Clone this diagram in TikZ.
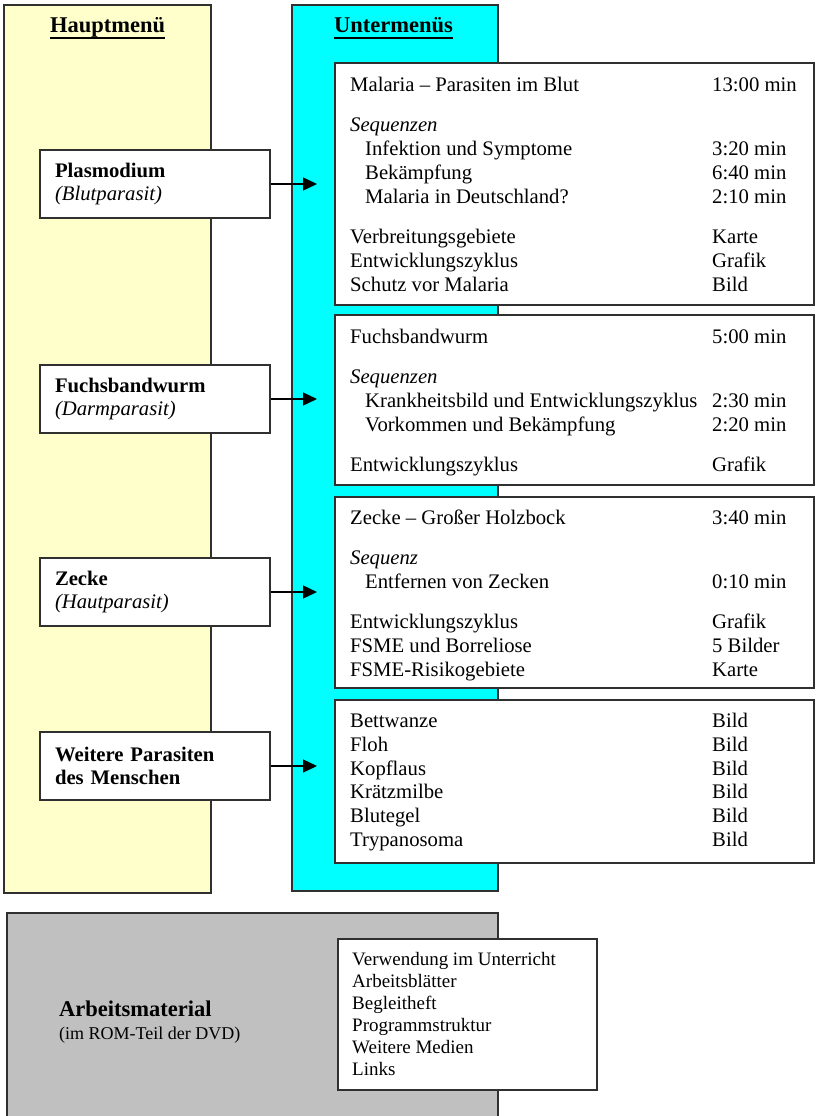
\documentclass[tikz,border=0pt]{standalone}
\usepackage{fontspec}
\setmainfont{Liberation Serif}
\usetikzlibrary{arrows.meta}
\definecolor{pyellow}{HTML}{FFFFCC}
\definecolor{pcyan}{HTML}{00FFFF}
\definecolor{pgray}{HTML}{C0C0C0}
\definecolor{edgec}{HTML}{303030}
\newcommand\hul[1]{\setbox0\hbox{#1}\rlap{\rule[-6.5pt]{\wd0}{2.2pt}}\box0}
\newcommand\ind{\hspace*{15pt}}
\begin{document}
\begin{tikzpicture}[x=1pt,y=-1pt,
  panel/.style={draw=edgec, line width=1.3pt},
  wbox/.style={draw=edgec, line width=1.3pt, fill=white},
  lbox/.style={draw=edgec, line width=1.3pt, fill=white, minimum width=230pt,
    minimum height=68pt, text width=200pt, inner xsep=15pt, inner ysep=0pt,
    align=left, font=\fontsize{20.7}{23.8}\selectfont},
  maintxt/.style={font=\fontsize{20.7}{23.8}\selectfont, inner sep=0pt, anchor=base west},
  head/.style={font=\fontsize{22.5}{26}\selectfont\bfseries, inner sep=0pt, anchor=base west},
  arr/.style={draw=black, line width=1.3pt, -{Triangle[length=14pt,width=13pt]}},
]
\useasboundingbox (0,0) rectangle (819,1116);

% panels
\draw[panel, fill=pyellow] (4,5) rectangle (211,893);
\draw[panel, fill=pcyan] (292,5) rectangle (498,891);
\node[head] (hm) at (50,33) {\hul{Hauptmenü}};
\node[head] (um) at (334,33) {\hul{Untermenüs}};

% submenu boxes
\draw[wbox] (335,63) rectangle (814,305);
\draw[wbox] (335,315) rectangle (814,485);
\draw[wbox] (335,497) rectangle (814,688);
\draw[wbox] (335,700) rectangle (814,863);

\node[maintxt] (b1) at (350,91.5) {\begin{tabular}[t]{@{}p{362pt}@{}l@{}}
Malaria -- Parasiten im Blut & 13:00 min\\[16.5pt]
\textit{Sequenzen} & \\
\ind Infektion und Symptome & 3:20 min\\
\ind Bekämpfung & 6:40 min\\
\ind Malaria in Deutschland? & 2:10 min\\[16.5pt]
Verbreitungsgebiete & Karte\\
Entwicklungszyklus & Grafik\\
Schutz vor Malaria & Bild
\end{tabular}};

\node[maintxt] (b2) at (350,343.5) {\begin{tabular}[t]{@{}p{362pt}@{}l@{}}
Fuchsbandwurm & 5:00 min\\[16.5pt]
\textit{Sequenzen} & \\
\ind Krankheitsbild und Entwicklungszyklus & 2:30 min\\
\ind Vorkommen und Bekämpfung & 2:20 min\\[16.5pt]
Entwicklungszyklus & Grafik
\end{tabular}};

\node[maintxt] (b3) at (350,524.5) {\begin{tabular}[t]{@{}p{362pt}@{}l@{}}
Zecke -- Großer Holzbock & 3:40 min\\[16.5pt]
\textit{Sequenz} & \\
\ind Entfernen von Zecken & 0:10 min\\[16.5pt]
Entwicklungszyklus & Grafik\\
FSME und Borreliose & 5 Bilder\\
FSME-Risikogebiete & Karte
\end{tabular}};

\node[maintxt] (b4) at (350,727.5) {\begin{tabular}[t]{@{}p{362pt}@{}l@{}}
Bettwanze & Bild\\
Floh & Bild\\
Kopflaus & Bild\\
Krätzmilbe & Bild\\
Blutegel & Bild\\
Trypanosoma & Bild
\end{tabular}};

% main menu boxes
\node[lbox] (plas) at (155,184) {\textbf{Plasmodium}\\\textit{(Blutparasit)}};
\node[lbox] (fuchs) at (155,399) {\textbf{Fuchsbandwurm}\\\textit{(Darmparasit)}};
\node[lbox] (zecke) at (155,592) {\textbf{Zecke}\\\textit{(Hautparasit)}};
\node[lbox] (weitere) at (155,766) {\textbf{Weitere Parasiten}\\\textbf{des Menschen}};

\coordinate (tip) at (317,0);
\draw[arr] (plas.east) -- (plas.east -| tip);
\draw[arr] (fuchs.east) -- (fuchs.east -| tip);
\draw[arr] (zecke.east) -- (zecke.east -| tip);
\draw[arr] (weitere.east) -- (weitere.east -| tip);

% Arbeitsmaterial
\draw[panel, fill=pgray] (7,913) rectangle (498,1135);
\node[inner sep=0pt, anchor=base west, font=\fontsize{22.5}{26}\selectfont\bfseries] (am) at (59,1016) {Arbeitsmaterial};
\node[inner sep=0pt, anchor=base west, font=\fontsize{18}{21}\selectfont] (rom) at (59,1039) {(im ROM-Teil der DVD)};
\draw[wbox] (338,939) rectangle (597,1090);
\node[inner sep=0pt, anchor=base west, font=\fontsize{19}{22}\selectfont] (list) at (352,965.5) {\begin{tabular}[t]{@{}l@{}}
Verwendung im Unterricht\\
Arbeitsblätter\\
Begleitheft\\
Programmstruktur\\
Weitere Medien\\
Links
\end{tabular}};
\end{tikzpicture}
\end{document}
